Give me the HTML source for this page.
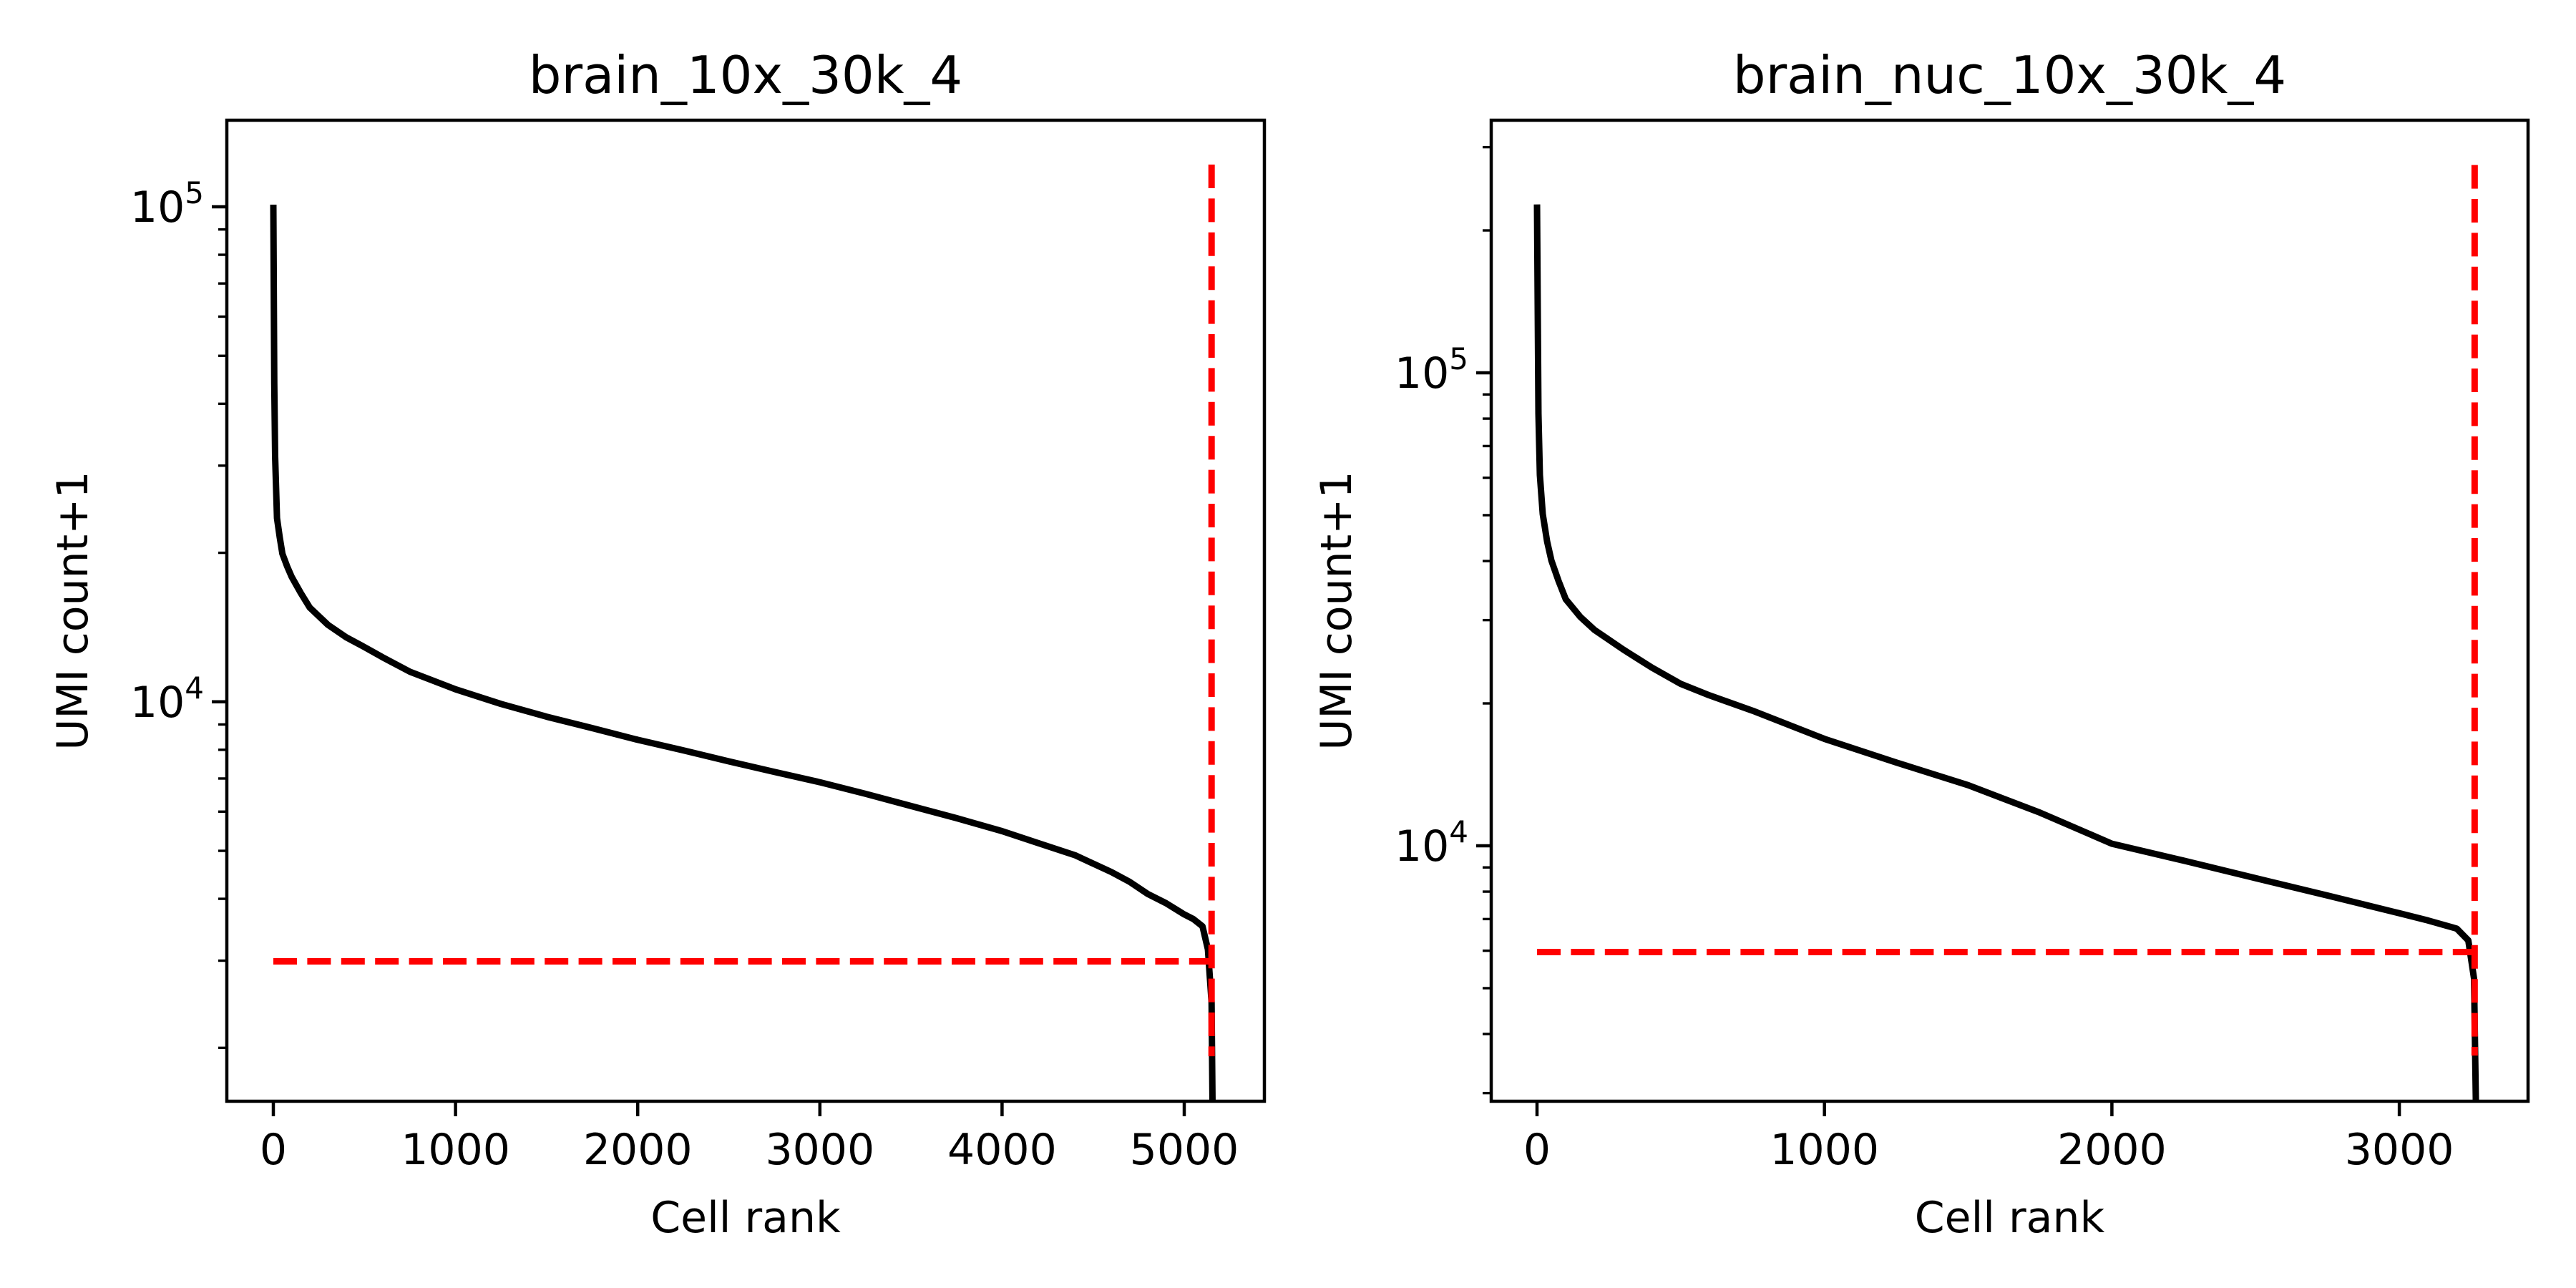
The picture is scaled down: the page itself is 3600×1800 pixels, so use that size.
<!DOCTYPE html>
<html><head><meta charset="utf-8"><style>
html,body{margin:0;padding:0;background:#fff;}
svg{display:block;font-family:"DejaVu Sans","Liberation Sans",sans-serif;}
</style></head><body>
<svg id="fig" width="3600" height="1800" viewBox="0 0 3600 1800" xmlns="http://www.w3.org/2000/svg">
<rect width="3600" height="1800" fill="#fff"/>
</svg>
<script>
// ---- data: left panel ----
const leftTitle = "brain_10x_30k_4";
const leftRanks = [0, 5, 10, 20, 35, 50, 75, 100, 150, 200, 300, 400, 500, 600, 750, 1000, 1250, 1500, 1750, 2000, 2250, 2500, 2750, 3000, 3250, 3500, 3750, 4000, 4200, 4400, 4600, 4700, 4800, 4900, 5000, 5050, 5100, 5130, 5150, 5160];
const leftUMI = [101000, 44000, 31300, 23500, 21500, 19900, 18800, 17900, 16600, 15500, 14300, 13500, 12900, 12300, 11500, 10600, 9900, 9330, 8850, 8380, 7980, 7580, 7220, 6880, 6520, 6160, 5820, 5480, 5180, 4900, 4530, 4330, 4090, 3920, 3720, 3640, 3520, 3160, 2470, 1000];
const leftXTicks = [0, 1000, 2000, 3000, 4000, 5000];
const leftThreshold = [2990];
const leftCutRank = [5150];
const leftCutSpan = [1923, 121700];
// ---- data: right panel ----
const rightTitle = "brain_nuc_10x_30k_4";
const rightRanks = [0, 5, 10, 20, 35, 50, 75, 100, 150, 200, 300, 400, 500, 600, 750, 1000, 1250, 1500, 1750, 2000, 2250, 2500, 2750, 3000, 3100, 3200, 3240, 3260, 3270];
const rightUMI = [227000, 82000, 60800, 50300, 44000, 40100, 36300, 33200, 30500, 28600, 26000, 23800, 22000, 20800, 19300, 16830, 15000, 13430, 11750, 10100, 9300, 8540, 7850, 7200, 6950, 6680, 6310, 5240, 2000];
const rightXTicks = [0, 1000, 2000, 3000];
const rightThreshold = [5960];
const rightCutRank = [3262];
const rightCutSpan = [3600, 275000];

const NS = "http://www.w3.org/2000/svg";
const svg = document.getElementById('fig');
function mk(tag, attrs, parent) {
  const e = document.createElementNS(NS, tag);
  for (const k in attrs) e.setAttribute(k, attrs[k]);
  (parent || svg).appendChild(e);
  return e;
}

function panel(p) {
  const g = mk('g', {});
  
  
  const L = p.left, R = p.right, T = 168, B = 1539;
  const xs = v => p.x0 + v * p.xk;
  const ys = v => p.y5 + (5 - Math.log10(v)) * p.dec;
  const clipId = p.name + '-clip';
  const cp = mk('clipPath', {id: clipId}, g);
  mk('rect', {x: L, y: T, width: R - L, height: B - T}, cp);
  let d = '';
  p.ranks.forEach((r, i) => { d += (i ? 'L' : 'M') + xs(r).toFixed(1) + ',' + ys(p.umi[i]).toFixed(1); });
  const curve = mk('path', {d: d, fill: 'none', stroke: '#000', 'stroke-width': 9, 'stroke-linejoin': 'round', 'clip-path': 'url(#' + clipId + ')'}, g);
  
  
  const h = mk('line', {x1: xs(0), x2: xs(p.cut[0]), y1: ys(p.thr[0]), y2: ys(p.thr[0]), stroke: '#f00', 'stroke-width': 9, 'stroke-dasharray': '33 14.4'}, g);
  
  
  const v = mk('line', {x1: xs(p.cut[0]), x2: xs(p.cut[0]), y1: ys(p.span[1]), y2: ys(p.span[0]), stroke: '#f00', 'stroke-width': 9, 'stroke-dasharray': '33 14.4'}, g);
  
  
  const box = mk('rect', {x: L, y: T, width: R - L, height: B - T, fill: 'none', stroke: '#000', 'stroke-width': 4.5}, g);
  
  
  p.xticks.forEach(t => {
    const x = xs(t);
    mk('line', {x1: x, x2: x, y1: B, y2: B + 21, stroke: '#000', 'stroke-width': 4.5}, g);
    const tx = mk('text', {x: x, y: B + 88, 'font-size': 60, 'text-anchor': 'middle'}, g);
    tx.textContent = t;
    
    
  });
  const lo = Math.log10(p.yMin), hi = Math.log10(p.yMax);
  for (let e = Math.floor(lo); e <= Math.ceil(hi); e++) {
    for (let m = 1; m <= 9; m++) {
      const val = m * Math.pow(10, e), lv = Math.log10(val);
      if (lv < lo || lv > hi) continue;
      const y = ys(val);
      if (m === 1) {
        mk('line', {x1: L - 21, x2: L, y1: y, y2: y, stroke: '#000', 'stroke-width': 4.5}, g);
        const tx = mk('text', {x: L - 32, y: y + 21, 'font-size': 60, 'text-anchor': 'end'}, g);
        
        
        tx.textContent = '10';
        const sup = mk('tspan', {dy: -26, 'font-size': 42}, tx);
        sup.textContent = e;
      } else {
        mk('line', {x1: L - 12, x2: L, y1: y, y2: y, stroke: '#000', 'stroke-width': 3.4}, g);
      }
    }
  }
  const title = mk('text', {x: (L + R) / 2, y: 130, 'font-size': 72, 'text-anchor': 'middle'}, g);
  title.textContent = p.title;
  
  
  const xl = mk('text', {x: (L + R) / 2, y: 1722, 'font-size': 60, 'text-anchor': 'middle'}, g);
  xl.textContent = 'Cell rank';
  
  
  const yl = mk('text', {x: 0, y: 0, 'font-size': 60, 'text-anchor': 'middle', transform: 'translate(' + p.ylabX + ',' + ((T + B) / 2) + ') rotate(-90)'}, g);
  yl.textContent = 'UMI count+1';
  
  
}

panel({name: 'left-panel', title: leftTitle, left: 317, right: 1767, x0: 382, xk: 0.2546,
  y5: 289, dec: 691.8, yMin: Math.pow(10, 3.192), yMax: Math.pow(10, 5.175),
  ranks: leftRanks, umi: leftUMI, xticks: leftXTicks, thr: leftThreshold, cut: leftCutRank, span: leftCutSpan, ylabX: 122});
panel({name: 'right-panel', title: rightTitle, left: 2084, right: 3533, x0: 2148, xk: 0.4017,
  y5: 521, dec: 661, yMin: Math.pow(10, 3.461), yMax: Math.pow(10, 5.534),
  ranks: rightRanks, umi: rightUMI, xticks: rightXTicks, thr: rightThreshold, cut: rightCutRank, span: rightCutSpan, ylabX: 1888});
</script>
</body></html>
